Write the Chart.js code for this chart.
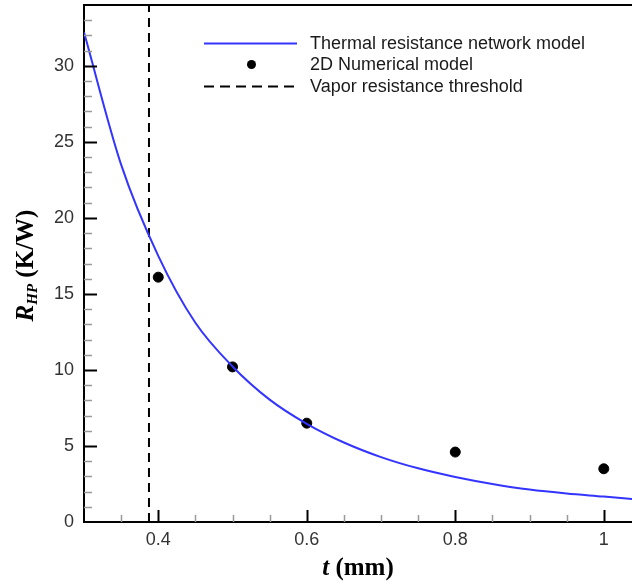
<!DOCTYPE html>
<html>
<head>
<meta charset="utf-8">
<script src="https://cdn.jsdelivr.net/npm/chart.js@4"></script>
<style>
  html, body { margin: 0; padding: 0; background: #fff; overflow: hidden; }
  #wrap { width: 632px; height: 588px; }
  canvas { display: block; }
</style>
</head>
<body>
<div id="wrap"><canvas id="chart"></canvas></div>
<script>
// model curve
const curveT = [0.30, 0.35, 0.40, 0.45, 0.50, 0.55, 0.60, 0.65, 0.70, 0.75, 0.80, 0.85, 0.90, 0.95, 1.00, 1.04];
const curveR = [32.2, 23.5, 17.5, 13.1, 10.23, 8.05, 6.46, 5.23, 4.27, 3.53, 2.96, 2.5, 2.13, 1.87, 1.67, 1.5];

// 2D numerical points
const numT = [0.4, 0.5, 0.6, 0.8, 1.0];
const numR = [16.1, 10.2, 6.5, 4.6, 3.5];

const thresholdT = 0.3875;

const xTicks = [0.4, 0.6, 0.8, 1.0];
const yTicks = [0, 5, 10, 15, 20, 25, 30];

const X_MIN = 0.3, X_MAX = 1.038, Y_MIN = 0, Y_MAX = 34;

const BLUE = '#3434ff';
const SANS = '"Liberation Sans", Arial, sans-serif';
const SERIF = '"Liberation Serif", "Times New Roman", serif';

const legendItems = [
  { label: 'Thermal resistance network model', kind: 'line' },
  { label: '2D Numerical model', kind: 'point' },
  { label: 'Vapor resistance threshold', kind: 'dash' },
];

// inward tick marks, top frame line, axis titles, legend
const frame = {
  id: 'frame',
  afterDraw(chart) {
    const { ctx, chartArea: a, scales: { x, y } } = chart;
    ctx.save();
    ctx.lineCap = 'butt';
    ctx.strokeStyle = '#000';
    ctx.lineWidth = 2;
    ctx.beginPath();
    ctx.moveTo(a.left - 1, a.top);
    ctx.lineTo(a.right, a.top);
    ctx.stroke();

    for (let v = Y_MIN + 1; v < Y_MAX; v++) {
      const major = v % 5 === 0;
      const py = Math.round(y.getPixelForValue(v)) + 0.5;
      ctx.strokeStyle = major ? '#000' : '#999';
      ctx.lineWidth = major ? 2 : 1.5;
      ctx.beginPath();
      ctx.moveTo(a.left, py);
      ctx.lineTo(a.left + (major ? 13 : 8), py);
      ctx.stroke();
    }
    for (let i = 7; i * 0.05 < X_MAX; i++) {
      const major = i % 4 === 0;
      const px = Math.round(x.getPixelForValue(i * 0.05)) + 0.5;
      ctx.strokeStyle = major ? '#000' : '#999';
      ctx.lineWidth = major ? 2 : 1.5;
      ctx.beginPath();
      ctx.moveTo(px, a.bottom);
      ctx.lineTo(px, a.bottom - (major ? 12 : 7));
      ctx.stroke();
    }

    // x title: t (mm)
    ctx.fillStyle = '#000';
    ctx.textBaseline = 'alphabetic';
    const f1 = 'italic bold 25px ' + SERIF;
    const f2 = 'bold 25px ' + SERIF;
    ctx.font = f1; const wt = ctx.measureText('t').width;
    ctx.font = f2; const wm = ctx.measureText(' (mm)').width;
    const sx = (a.left + a.right) / 2 - (wt + wm) / 2;
    ctx.font = f1; ctx.fillText('t', sx, 575);
    ctx.font = f2; ctx.fillText(' (mm)', sx + wt, 575);

    // y title: R_HP (K/W)
    ctx.translate(33, (a.top + a.bottom) / 2 + 2);
    ctx.rotate(-Math.PI / 2);
    const fs = 'italic bold 15px ' + SERIF;
    ctx.font = f1; const wr = ctx.measureText('R').width;
    ctx.font = fs; const wh = ctx.measureText('HP').width;
    ctx.font = f2; const wk = ctx.measureText(' (K/W)').width;
    const sy = -(wr + wh + wk) / 2;
    ctx.font = f1; ctx.fillText('R', sy, 0);
    ctx.font = fs; ctx.fillText('HP', sy + wr, 4);
    ctx.font = f2; ctx.fillText(' (K/W)', sy + wr + wh, 0);
    ctx.restore();

    // legend
    ctx.save();
    ctx.font = '18px ' + SANS;
    ctx.textBaseline = 'middle';
    legendItems.forEach((it, i) => {
      const cy = 43 + i * 21.5;
      if (it.kind === 'point') {
        ctx.fillStyle = '#000';
        ctx.beginPath();
        ctx.arc(251.5, cy, 4.5, 0, Math.PI * 2);
        ctx.fill();
      } else {
        ctx.strokeStyle = it.kind === 'line' ? BLUE : '#000';
        ctx.lineWidth = 2;
        ctx.setLineDash(it.kind === 'dash' ? [10, 6] : []);
        ctx.beginPath();
        ctx.moveTo(204, cy + 0.5);
        ctx.lineTo(297, cy + 0.5);
        ctx.stroke();
        ctx.setLineDash([]);
      }
      ctx.fillStyle = '#1a1a1a';
      ctx.fillText(it.label, 310, cy + 1);
    });
    ctx.restore();
  }
};

new Chart(document.getElementById('chart'), {
  type: 'scatter',
  data: {
    datasets: [
      {
        label: 'Thermal resistance network model',
        data: curveT.map((t, i) => ({ x: t, y: curveR[i] })),
        showLine: true,
        borderColor: BLUE,
        borderWidth: 2,
        pointRadius: 0,
        cubicInterpolationMode: 'monotone',
      },
      {
        label: '2D Numerical model',
        data: numT.map((t, i) => ({ x: t, y: numR[i] })),
        backgroundColor: '#000',
        borderColor: '#000',
        pointRadius: 5,
      },
      {
        label: 'Vapor resistance threshold',
        data: [{ x: thresholdT, y: Y_MIN }, { x: thresholdT, y: Y_MAX }],
        showLine: true,
        borderColor: '#000',
        borderWidth: 2,
        borderDash: [9, 6],
        pointRadius: 0,
      },
    ]
  },
  options: {
    responsive: true,
    maintainAspectRatio: false,
    animation: false,
    layout: { autoPadding: false, padding: { top: 5, right: 0, left: 0, bottom: 0 } },
    plugins: { legend: { display: false }, tooltip: { enabled: false } },
    scales: {
      x: {
        type: 'linear',
        min: X_MIN, max: X_MAX,
        grid: { display: false, drawTicks: false },
        border: { display: true, color: '#000', width: 2 },
        afterBuildTicks: s => { s.ticks = xTicks.map(v => ({ value: v })); },
        afterFit: s => { s.height = 66; s.paddingLeft = 0; s.paddingRight = 0; },
        ticks: {
          padding: 7,
          color: '#333',
          font: { family: SANS, size: 18 },
          callback: v => String(Math.round(v * 10) / 10),
          maxRotation: 0,
        }
      },
      y: {
        type: 'linear',
        min: Y_MIN, max: Y_MAX,
        grid: { display: false, drawTicks: false },
        border: { display: true, color: '#000', width: 2 },
        afterBuildTicks: s => { s.ticks = yTicks.map(v => ({ value: v })); },
        afterFit: s => { s.width = 84; s.paddingTop = 0; s.paddingBottom = 0; },
        ticks: {
          padding: 10,
          color: '#333',
          font: { family: SANS, size: 18 },
        }
      }
    }
  },
  plugins: [frame]
});
</script>
</body>
</html>
